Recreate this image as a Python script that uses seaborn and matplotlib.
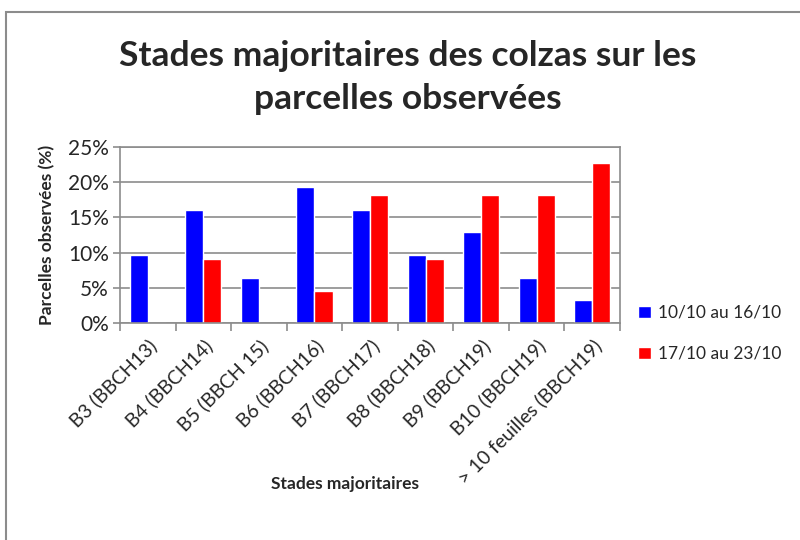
import pandas as pd
import numpy as np
import seaborn as sns
import matplotlib.pyplot as plt
from matplotlib.patches import Rectangle
from matplotlib.ticker import PercentFormatter

stades = ['B3 (BBCH13)', 'B4 (BBCH14)', 'B5 (BBCH 15)', 'B6 (BBCH16)', 'B7 (BBCH17)',
          'B8 (BBCH18)', 'B9 (BBCH19)', 'B10 (BBCH19)', '> 10 feuilles (BBCH19)']
periodes = ['10/10 au 16/10', '17/10 au 23/10']
semaine1 = [9.7, 16.1, 6.45, 19.35, 16.1, 9.7, 12.9, 6.45, 3.2]
semaine2 = [0.0, 9.1, 0.0, 4.5, 18.2, 9.1, 18.2, 18.2, 22.7]
couleurs = ['#0000FF', '#FF0000']

df = pd.DataFrame({
    'Stade': stades * 2,
    'Periode': [periodes[0]] * len(stades) + [periodes[1]] * len(stades),
    'Pct': semaine1 + semaine2,
})

sns.set_style('white')
plt.rcParams['font.family'] = ['Lato', 'DejaVu Sans']

fig = plt.figure(figsize=(8, 5.4), dpi=100)
ax = fig.add_axes([0.15, 0.402, 0.625, 0.326])

sns.barplot(data=df, x='Stade', y='Pct', hue='Periode', order=stades,
            hue_order=periodes, palette=couleurs, width=0.65, saturation=1,
            ax=ax, legend=True)

# axes look
ax.set_ylim(0, 25)
ax.set_xlim(-0.5, len(stades) - 0.5)
ax.set_yticks(np.arange(0, 26, 5))
ax.yaxis.set_major_formatter(PercentFormatter(decimals=0))
ax.grid(axis='y', color='#8c8c8c', linewidth=1.2)
ax.set_axisbelow(True)
for s in ax.spines.values():
    s.set_color('#8c8c8c')
    s.set_linewidth(1.2)

ax.set_xticks(range(len(stades)))
ax.set_xticklabels(stades, rotation=45, ha='right', rotation_mode='anchor', fontsize=14)
ax.tick_params(axis='x', length=0, pad=10)
ax.set_xticks(np.arange(-0.5, len(stades), 1), minor=True)
ax.tick_params(axis='x', which='minor', length=6, color='#8c8c8c', width=1.2, bottom=True)
ax.tick_params(axis='y', length=5, color='#8c8c8c', width=1.2, left=True, labelsize=15, pad=3)

ax.set_xlabel('Stades majoritaires', fontsize=12.5, fontweight='bold')
ax.xaxis.set_label_coords(0.45, -0.87)
ax.set_ylabel('Parcelles observées (%)', fontsize=12.5, fontweight='bold')
ax.yaxis.set_label_coords(-0.13, 0.5)

# legend to the right of the plot
handles, labels = ax.get_legend_handles_labels()
ax.legend_.remove()
fig.legend(handles, labels, loc='upper left', bbox_to_anchor=(0.785, 0.455),
           frameon=False, fontsize=12.5, handlelength=0.7, handleheight=0.7,
           handletextpad=0.45, labelspacing=1.45, borderaxespad=0.2)

fig.suptitle('Stades majoritaires des colzas sur les\nparcelles observées',
             x=0.51, y=0.925, fontsize=25.5, fontweight='bold', linespacing=1.4)

# chart frame (continues past the right and bottom edge)
fig.patches.append(Rectangle((0.007, -0.05), 1.1, 1.028, transform=fig.transFigure,
                             fill=False, edgecolor='#8c8c8c', linewidth=1.5))

fig.savefig('out.png', dpi=100)
